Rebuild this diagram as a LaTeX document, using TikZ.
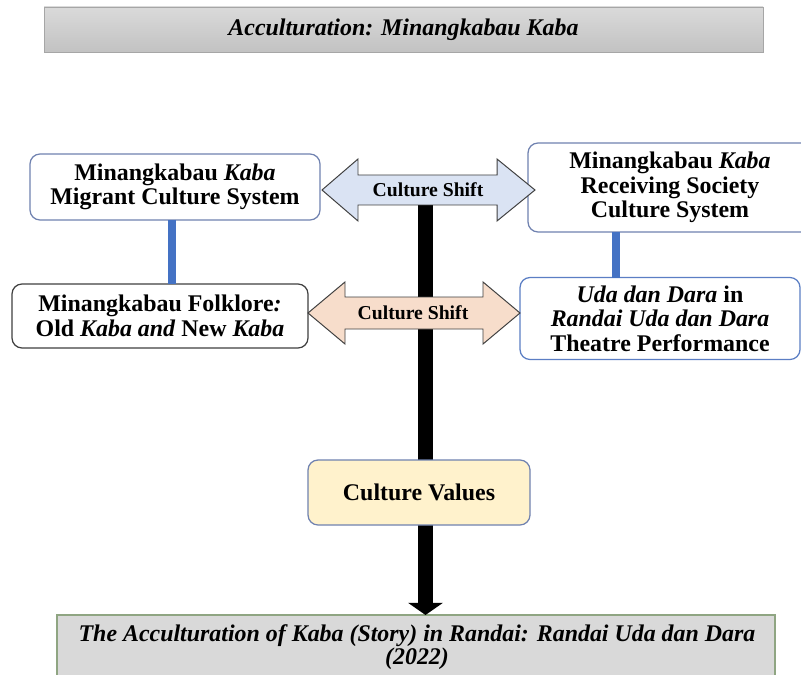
\documentclass[tikz,border=0pt]{standalone}
\usepackage{fontspec}
\setmainfont{Liberation Serif}
\usetikzlibrary{arrows.meta}

% one unit of the drawing grid
\newcommand{\pxu}{0.025cm}

\definecolor{bartop}{HTML}{DADADA}
\definecolor{barbot}{HTML}{C2C2C2}
\definecolor{baredge}{HTML}{A6A6A6}
\definecolor{slateedge}{HTML}{7082B0}
\definecolor{blueedge}{HTML}{5B7EC4}
\definecolor{darkedge}{HTML}{404040}
\definecolor{linkblue}{HTML}{4472C4}
\definecolor{shiftblue}{HTML}{DAE3F3}
\definecolor{shiftpeach}{HTML}{F7DDCB}
\definecolor{valuefill}{HTML}{FFF2CC}
\definecolor{outfill}{HTML}{D9D9D9}
\definecolor{outedge}{HTML}{8FA582}

% double-headed "Culture Shift" arrow:
% #1 style, #2 left tip, #3 left head base, #4 right head base, #5 right tip,
% #6 axis y, #7 half head height, #8 half body height
\newcommand{\shiftarrow}[8]{%
  \filldraw[#1] (#2,#6) -- (#3,#6-#7) -- (#3,#6-#8) -- (#4,#6-#8) -- (#4,#6-#7)
    -- (#5,#6) -- (#4,#6+#7) -- (#4,#6+#8) -- (#3,#6+#8) -- (#3,#6+#7) -- cycle;}

\begin{document}
\begin{tikzpicture}[x=0.025cm,y=-0.025cm,
  every node/.style={inner sep=0pt, outer sep=0pt},
  titlebar/.style={draw=baredge, line width=0.6pt, top color=bartop, bottom color=barbot,
    minimum width=719*\pxu, minimum height=45*\pxu,
    font=\fontsize{17}{19}\selectfont\bfseries\itshape},
  sysbox/.style={draw, line width=0.9pt, rounded corners=0.25cm, fill=white,
    align=center, font=\fontsize{17}{17.5}\selectfont\bfseries},
  valuebox/.style={sysbox, draw=slateedge, fill=valuefill},
  outbox/.style={draw=outedge, line width=0.9pt, fill=outfill},
  outtext/.style={align=center, font=\fontsize{17}{16.5}\selectfont\bfseries\itshape},
  shifttext/.style={font=\fontsize{14}{16}\selectfont\bfseries},
  arrowline/.style={draw=darkedge, line width=0.7pt},
  link/.style={draw=linkblue, line width=5.6pt},
  shaft/.style={draw=black, line width=10.7pt, -{Triangle[width=24.2pt,length=8.6pt]}}
]
\clip (0,0) rectangle (801,675);
\fill[white] (0,0) rectangle (801,675);

% heading bar
\node[titlebar] (title) at (403.5,29.5) {Acculturation: Minangkabau Kaba};

% culture systems
\node[sysbox, draw=slateedge, minimum width=290*\pxu, minimum height=66*\pxu]
  (migrant) at (175,187) {Minangkabau \textit{Kaba}\\Migrant Culture System};
\node[sysbox, draw=slateedge, minimum width=284*\pxu, minimum height=89*\pxu]
  (receiving) at (670,187.5) {Minangkabau \textit{Kaba}\\Receiving Society\\Culture System};
\node[sysbox, draw=darkedge, minimum width=296*\pxu, minimum height=64*\pxu]
  (folklore) at (160,316) {Minangkabau Folklore\textit{:}\\Old \textit{Kaba and} New \textit{Kaba}};
\node[sysbox, draw=blueedge, minimum width=280*\pxu, minimum height=82*\pxu]
  (randai) at (660,318.5) {\textit{Uda dan Dara} in\\\textit{Randai Uda dan Dara}\\Theatre Performance};

% links between each system and its folklore form
\draw[link] (172,0 |- migrant.south) -- (172,0 |- folklore.north);
\draw[link] (616,0 |- receiving.south) -- (616,0 |- randai.north);

% outcome bar
\node[outbox, minimum width=718*\pxu, minimum height=80*\pxu] (outcome) at (416,655) {};
\node[outtext] (outlabel) at (417,647)
  {The Acculturation of Kaba (Story) in Randai: Randai Uda dan Dara\\(2022)};

% main flow down to the outcome
\coordinate (shafttop) at (425.5,205);
\draw[shaft] (shafttop) -- (shafttop |- outcome.north);

% culture shift arrows
\shiftarrow{arrowline, fill=shiftblue}{322}{358}{497}{535}{190}{31}{15}
\node[shifttext] (shiftupper) at (428,190) {Culture Shift};
\shiftarrow{arrowline, fill=shiftpeach}{308}{345}{483}{520}{313}{31}{16}
\node[shifttext] (shiftlower) at (413,313) {Culture Shift};

% culture values
\node[valuebox, minimum width=222*\pxu, minimum height=65*\pxu]
  (values) at (419,492.5) {Culture Values};
\end{tikzpicture}
\end{document}
